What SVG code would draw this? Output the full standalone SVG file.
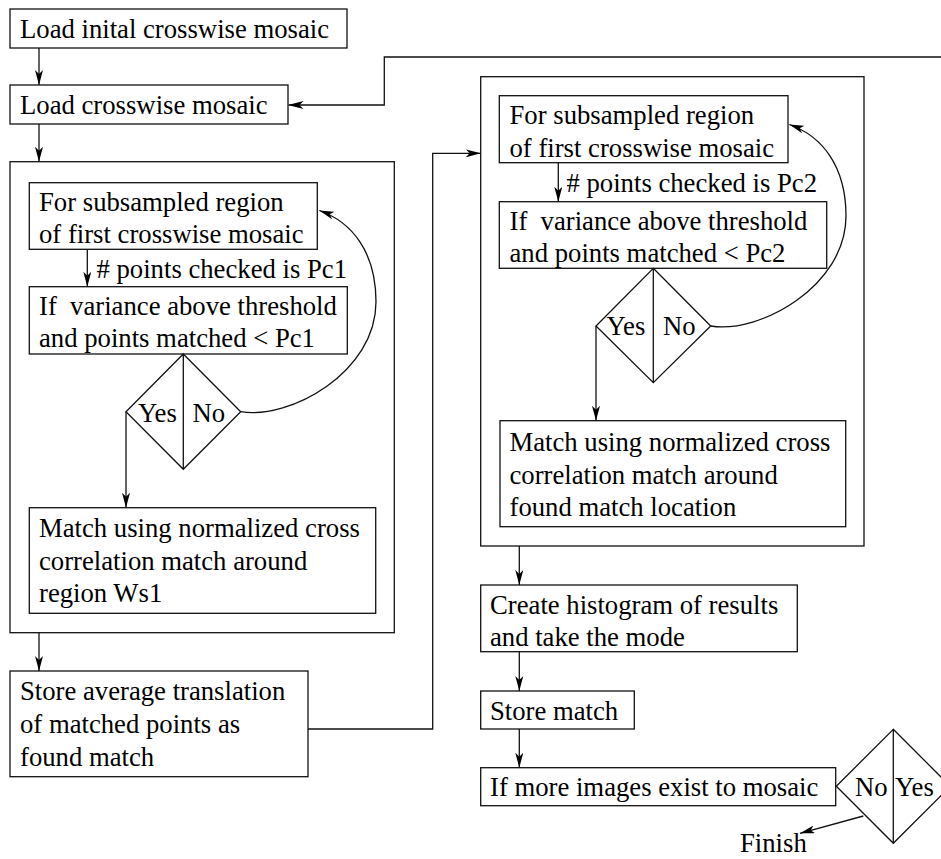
<svg xmlns="http://www.w3.org/2000/svg" width="941" height="859" viewBox="0 0 941 859">
<style>
.b{fill:#fff;stroke:#111;stroke-width:1.3}
.c{fill:none;stroke:#111;stroke-width:1.3}
.ar{marker-end:url(#ah)}
text{font-family:'Liberation Serif','DejaVu Serif',serif;font-size:26.7px;fill:#000;white-space:pre}
</style>
<defs>
<marker id="ah" viewBox="0 0 15 8" refX="15" refY="4" markerWidth="15" markerHeight="8" markerUnits="userSpaceOnUse" orient="auto">
<path d="M0,0 L15,4 L0,8 L4,4 Z" fill="#000"/>
</marker>
</defs>
<rect width="941" height="859" fill="#fff"/>
<g id="container-left"><rect class="b" x="10" y="161.7" width="384.3" height="471"/></g>
<g id="container-right"><rect class="b" x="480.7" y="76.7" width="383.3" height="469.3"/></g>
<g id="n-load-initial"><rect class="b" x="10" y="9" width="337" height="39"/><text x="20" y="37.5">Load inital crosswise mosaic</text></g>
<g id="n-load"><rect class="b" x="10" y="85" width="278" height="39"/><text x="20" y="113.5">Load crosswise mosaic</text></g>
<g id="n-sub1"><rect class="b" x="29.3" y="182.7" width="288" height="66.6"/><text x="39" y="211">For subsampled region</text><text x="39" y="243">of first crosswise mosaic</text></g>
<g id="n-var1"><rect class="b" x="29.3" y="286.7" width="318" height="67.3"/><text x="39" y="315">If  variance above threshold</text><text x="39" y="347">and points matched &lt; Pc1</text></g>
<g id="n-dec1"><path class="b" d="M183.3,354 L240.7,411.7 L183.3,469.3 L126,411.7 Z M183.3,354 V469.3"/><text x="138" y="422">Yes</text><text x="192.5" y="422">No</text></g>
<g id="n-match1"><rect class="b" x="29.3" y="507.7" width="346.4" height="105.6"/><text x="39" y="537">Match using normalized cross</text><text x="39" y="569.5">correlation match around</text><text x="39" y="602">region Ws1</text></g>
<g id="n-storeavg"><rect class="b" x="10" y="671" width="298" height="105.7"/><text x="20" y="699.5">Store average translation</text><text x="20" y="732.5">of matched points as</text><text x="20" y="765.5">found match</text></g>
<g id="n-sub2"><rect class="b" x="499.3" y="95.7" width="288.7" height="67"/><text x="509.5" y="123.5">For subsampled region</text><text x="509.5" y="156.5">of first crosswise mosaic</text></g>
<g id="n-var2"><rect class="b" x="499.3" y="201.7" width="327.4" height="66.6"/><text x="509.5" y="229.5">If  variance above threshold</text><text x="509.5" y="261.5">and points matched &lt; Pc2</text></g>
<g id="n-dec2"><path class="b" d="M653.3,268.3 L710.7,326 L653.3,382.7 L596,326 Z M653.3,268.3 V382.7"/><text x="606.5" y="335">Yes</text><text x="663" y="335">No</text></g>
<g id="n-match2"><rect class="b" x="500" y="420.7" width="345.7" height="106"/><text x="509.5" y="451">Match using normalized cross</text><text x="509.5" y="483.5">correlation match around</text><text x="509.5" y="516">found match location</text></g>
<g id="n-hist"><rect class="b" x="480.7" y="585" width="316.6" height="66.7"/><text x="490" y="613.5">Create histogram of results</text><text x="490" y="646">and take the mode</text></g>
<g id="n-store"><rect class="b" x="480.7" y="691" width="153.6" height="38"/><text x="490" y="720">Store match</text></g>
<g id="n-more"><rect class="b" x="480.7" y="767.7" width="355" height="38"/><text x="490" y="795.5">If more images exist to mosaic</text></g>
<g id="n-dec3"><path class="b" d="M893.3,729.3 L950.3,786.3 L893.3,843.3 L836.3,786.3 Z M893.3,729.3 V843.3"/><text x="855" y="795.5">No</text><text x="895" y="795.5">Yes</text></g>
<g id="n-finish"><text x="740" y="852">Finish</text></g>
<g id="connectors">
<path class="c ar" d="M39,48 V85"/>
<path class="c ar" d="M39,124 V161.7"/>
<path class="c ar" d="M87.3,249.3 V286.7"/>
<path class="c ar" d="M126,411.7 V507.7"/>
<path class="c ar" d="M240.7,411.7 C290,420 376,372 376,302 C376,252 352,222 319.3,210.5"/>
<path class="c ar" d="M39,632.7 V671"/>
<path class="c ar" d="M308,729 H432.7 V153.3 H480.7"/>
<path class="c ar" d="M941,57 H384.3 V105 H288.5"/>
<path class="c ar" d="M558.3,162.7 V201.7"/>
<path class="c ar" d="M596,326 V420.7"/>
<path class="c ar" d="M710.7,326 C760,334 846,286 846,216 C846,166 822,136 789.3,124.5"/>
<path class="c ar" d="M519.3,546 V585"/>
<path class="c ar" d="M519.3,651.7 V691"/>
<path class="c ar" d="M519.3,729 V767.7"/>
<path class="c ar" d="M863.3,816 L800,833.3"/>
</g>
<g id="labels"><text x="96.5" y="277.5"># points checked is Pc1</text><text x="566.5" y="191.5"># points checked is Pc2</text></g>
</svg>
